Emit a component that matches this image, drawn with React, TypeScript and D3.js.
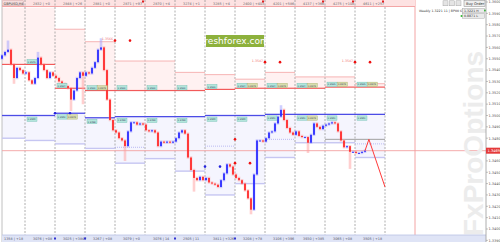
import React from 'react';
import * as d3 from 'd3';

// ---- price series (bar closes, GBPUSD H-bars) ----
const firstOpen = 1.3550;
const closes = [
  1.3553, 1.3556, 1.3558, 1.3545, 1.3533, 1.3542, 1.3540, 1.3537, 1.3538, 1.3531,
  1.3528, 1.3533, 1.3551, 1.3545, 1.3540, 1.3533, 1.3538, 1.3535, 1.3533, 1.3530,
  1.3528, 1.3526, 1.3524, 1.3514, 1.3522, 1.3533, 1.3538, 1.3535, 1.3538, 1.3537,
  1.3542, 1.3547, 1.3558, 1.3560, 1.3540, 1.3514, 1.3496, 1.3487, 1.3485, 1.3480,
  1.3478, 1.3473, 1.3486, 1.3494, 1.3494, 1.3492, 1.3493, 1.3492, 1.3487, 1.3486,
  1.3487, 1.3485, 1.3473, 1.3477, 1.3476, 1.3477, 1.3476, 1.3477, 1.3480, 1.3485,
  1.3487, 1.3484, 1.3463, 1.3452, 1.3445, 1.3443, 1.3446, 1.3443, 1.3445, 1.3441,
  1.3440, 1.3439, 1.3437, 1.3443, 1.3449, 1.3457, 1.3455, 1.3448, 1.3445, 1.3443,
  1.3440, 1.3434, 1.3427, 1.3417, 1.3448, 1.3478, 1.3478, 1.3477, 1.3480, 1.3485,
  1.3486, 1.3493, 1.3499, 1.3505, 1.3496, 1.3489, 1.3485, 1.3483, 1.3486, 1.3482,
  1.3481, 1.3481, 1.3476, 1.3483, 1.3493, 1.3490, 1.3488, 1.3491, 1.3492, 1.3493,
  1.3494, 1.3493, 1.3486, 1.3478, 1.3472, 1.3473, 1.3468, 1.3468, 1.3467, 1.3467,
  1.3468, 1.3469,
];
const spikeHighs: [number, number][] = [[2, 1.3565], [12, 1.3555], [33, 1.3567], [93, 1.3508]];
const spikeLows: [number, number][] = [
  [4, 1.3529], [23, 1.3505], [27, 1.3511], [41, 1.3461], [64, 1.3434],
  [83, 1.3414], [102, 1.3468], [116, 1.3454],
];
const currentPrice = 1.3469;
const projection: [number, number][] = [[121, 1.3469], [122.3, 1.3479], [127.67, 1.3437]];

// ---- daily levels (13 day columns) ----
const dayPinkTop = [1.3595, 1.3595, 1.3576, 1.3565, 1.3548, 1.3548, 1.3538, 1.3536, 1.3532, 1.3538, 1.3534, 1.3534, 1.3528];
const dayRes = [1.3545, 1.3545, 1.3524, 1.3522, 1.3522, 1.3522, 1.3522, 1.3523, 1.3524, 1.3524, 1.3524, 1.3525, 1.3525];
const dayPivot = [1.3500, 1.3500, 1.3502, 1.3498, 1.3499, 1.3499, 1.3499, 1.3500, 1.3500, 1.3501, 1.3501, 1.3501, 1.3501];
const daySup = [1.3480, 1.3478, 1.3475, 1.3471, 1.3458, 1.3462, 1.3451, 1.3430, 1.3440, 1.3463, 1.3476, 1.3476, 1.3463];
const resDouble = [false, false, false, true, false, false, false, false, true, true, true, true, true];
const pivDouble = [false, false, true, false, false, false, false, false, false, false, true, false, false];
const secondLabel = 1.3545;
const dottedLevels: [number, number][] = [[4, 1.3472], [7, 1.3473], [9, 1.3479], [12, 1.3475]];
const grayLevel: [number[], number] = [[11, 12], 1.3479];
const redDots: [number, number][] = [
  [37.67, 1.3566], [42.67, 1.3566], [87.67, 1.3547], [92.67, 1.3547],
  [117.67, 1.3547], [122.67, 1.3547], [77.67, 1.3479], [77.67, 1.3458], [82.67, 1.3458],
];
const blueDots: [number, number][] = [[17.67, 1.3502], [22.67, 1.3502], [67.67, 1.3455], [72.67, 1.3455]];

// ---- text ----
const headerLabels = ['', '2832 | +0', '2848 | +26', '2881 | +0', '2871 | +97', '2870 | +4', '3274 | +1',
  '3285 | +4', '2400 | +403', '4201 | +586', '4137 | +366', '4275 | +108', '4611 | +257'];
const footerLabels = ['1358 | +18', '3076 | +08', '3025 | +3847', '3267 | +08', '3079 | +0', '3076 | 14',
  '2505 | 11', '3811 | +326', '3208 | +78', '3106 | +396', '3930 | +385', '3065 | +08', '3505 | +18'];
const priceTicks = [1.3600, 1.3590, 1.3580, 1.3570, 1.3560, 1.3550, 1.3540, 1.3530, 1.3520, 1.3510, 1.3500,
  1.3490, 1.3480, 1.3470, 1.3460, 1.3450, 1.3440, 1.3430, 1.3420, 1.3410, 1.3400, 1.3390];
const symbolLabel = 'GBPUSD,H4';
const infoLabel = 'Weekly 1.3221 11 | BP00 63';
const infoBoxes = ['1.3221 H', '0.8871 L'];

const FONT = 'DejaVu Sans, Liberation Sans, sans-serif';

export default function App() {
  const xs = d3.scaleLinear().domain([0, 161.333]).range([2, 486]);
  const ys = d3.scaleLinear().domain([1.36, 1.339]).range([2, 240.35]);
  const fmt = d3.format('.4f');
  const dayStart = (d: number) => -2.333 + 10 * d;
  const cx0 = (d: number) => Math.max(2, xs(dayStart(d)));
  const cx1 = (d: number) => xs(dayStart(d + 1));
  const days = d3.range(13);
  const separators = d3.range(1, 14).map(dayStart);
  const nowBar = dayStart(14);

  const candles = closes.map((c, i) => {
    const o = i === 0 ? firstOpen : closes[i - 1];
    let hi = Math.max(o, c), lo = Math.min(o, c);
    const sh = spikeHighs.find(s => s[0] === i);
    const sl = spikeLows.find(s => s[0] === i);
    if (sh) hi = Math.max(hi, sh[1]);
    if (sl) lo = Math.min(lo, sl[1]);
    return { i, o, c, hi, lo, up: c >= o };
  });

  const projLine = d3.line<[number, number]>().x(d => xs(d[0])).y(d => ys(d[1]))(projection) || '';

  const tealBox = (x: number, y: number, label: string, olive: boolean, key: string) => (
    <g key={key}>
      <rect x={x} y={y} width={10} height={4.4} fill="#b4e6dc" stroke="#6cbcb0" strokeWidth={0.4} />
      <text x={x + 0.5} y={y + 3.3} fontSize={2.3} fill="#335">{label}</text>
      {olive && (
        <g>
          <rect x={x + 10.4} y={y} width={10} height={4.4} fill="#d8dcae" stroke="#a7ad6a" strokeWidth={0.4} />
          <text x={x + 10.9} y={y + 3.3} fontSize={2.3} fill="#335">{fmt(secondLabel)}</text>
        </g>
      )}
    </g>
  );

  return (
    <div style={{ position: 'fixed', left: 0, top: 0, width: 500, height: 242, background: '#fff' }}>
      <svg width={500} height={242} style={{ display: 'block' }} fontFamily={FONT}>
        <rect x={0} y={0} width={500} height={242} fill="#fff" />
        {/* pink resistance zones */}
        {days.map(d => (
          <rect key={'pz' + d} x={cx0(d)} width={cx1(d) - cx0(d)} y={ys(dayPinkTop[d])}
            height={ys(dayRes[d]) - ys(dayPinkTop[d])} fill="#fff1f1" />
        ))}
        {/* lavender support zones */}
        {days.map(d => (
          <rect key={'lz' + d} x={cx0(d)} width={cx1(d) - cx0(d)} y={ys(dayPivot[d])}
            height={ys(daySup[d]) - ys(dayPivot[d])} fill="#f5f5fe" />
        ))}
        {/* vertical day separators */}
        {separators.map((b, k) => (
          <line key={'vs' + k} x1={xs(b)} x2={xs(b)} y1={0} y2={242} stroke="#9a9a9a" strokeWidth={0.8} strokeDasharray="2,1.5" />
        ))}
        <line x1={2} x2={2} y1={0} y2={242} stroke="#b0b0b0" strokeWidth={0.8} />
        {/* level lines */}
        {days.map(d => (
          <g key={'lv' + d}>
            {d >= 2 && <line x1={cx0(d)} x2={cx1(d)} y1={ys(dayPinkTop[d])} y2={ys(dayPinkTop[d])} stroke="#f6b4b4" strokeWidth={1} />}
            <line x1={cx0(d)} x2={cx1(d)} y1={ys(dayRes[d])} y2={ys(dayRes[d])} stroke="#f25a5a" strokeWidth={1.2} />
            <line x1={cx0(d)} x2={cx1(d)} y1={ys(dayPivot[d])} y2={ys(dayPivot[d])} stroke="#4c4ce6" strokeWidth={1.3} />
            <line x1={cx0(d)} x2={cx1(d)} y1={ys(daySup[d])} y2={ys(daySup[d])} stroke="#c6c6f2" strokeWidth={1.4} />
          </g>
        ))}
        {dottedLevels.map(([d, p], k) => (
          <line key={'dl' + k} x1={cx0(d)} x2={cx1(d)} y1={ys(p)} y2={ys(p)} stroke="#a9a9ee" strokeWidth={0.8} strokeDasharray="1,1" />
        ))}
        <line x1={cx0(grayLevel[0][0])} x2={cx1(grayLevel[0][1])} y1={ys(grayLevel[1])} y2={ys(grayLevel[1])} stroke="#a0a0a0" strokeWidth={1} />
        {/* current price line */}
        <line x1={2} x2={486} y1={ys(currentPrice)} y2={ys(currentPrice)} stroke="#f3a3a3" strokeWidth={0.9} />
        {/* candles */}
        {candles.map(k => (
          <line key={'w' + k.i} x1={xs(k.i)} x2={xs(k.i)} y1={ys(k.hi) - 1.2} y2={ys(k.lo) + 1.2}
            stroke={k.up ? '#a0a0ff' : '#ffa0a0'} strokeWidth={2.6} opacity={0.5} />
        ))}
        {candles.map(k => (
          <rect key={'b' + k.i} x={xs(k.i) - 0.85} width={1.7} y={ys(Math.max(k.o, k.c))}
            height={Math.max(1, ys(Math.min(k.o, k.c)) - ys(Math.max(k.o, k.c)))}
            fill={k.up ? '#2424ff' : '#ff2222'} />
        ))}
        <path d={projLine} fill="none" stroke="#ff3a3a" strokeWidth={1} />
        {/* dots */}
        {redDots.map(([b, p], k) => (
          <g key={'rd' + k}>
            <circle cx={xs(b)} cy={ys(p)} r={1.3} fill="#ee1111" />
            {k % 2 === 0 && k < 6 && (
              <text x={xs(b) - 2} y={ys(p) - 0.3} fontSize={3.2} fill="#f06a6a" textAnchor="end">{fmt(p)}</text>
            )}
          </g>
        ))}
        {blueDots.map(([b, p], k) => <circle key={'bd' + k} cx={xs(b)} cy={ys(p)} r={1.3} fill="#2222dd" />)}
        {/* level labels */}
        {days.map(d => d >= 1 && tealBox(cx0(d) + 2, ys(dayRes[d]) - 5, fmt(dayRes[d]), resDouble[d], 'rl' + d))}
        {days.map(d => d >= 1 && tealBox(cx0(d) + 2, ys(dayPivot[d]) + 1.5, fmt(dayPivot[d]), pivDouble[d], 'pl' + d))}
        {/* watermarks */}
        <g>
          <rect x={206} y={35} width={58} height={12} fill="#8db13c" />
          <text x={235} y={44.2} fontSize={9} fill="#fff" textAnchor="middle">freshforex.com</text>
        </g>
        <text transform="translate(483,236) rotate(-90)" fontSize={28} fontWeight="bold" fill="#ececec"
          fontFamily="Liberation Sans, DejaVu Sans, sans-serif">FxProOptions</text>
        {/* now line */}
        <line x1={xs(nowBar)} x2={xs(nowBar)} y1={0} y2={242} stroke="#f29a9a" strokeWidth={0.9} />
        {/* header */}
        <rect x={2} y={0} width={xs(nowBar) - 2} height={6.5} fill="#fde2e2" />
        <line x1={2} x2={xs(nowBar)} y1={6.5} y2={6.5} stroke="#f3a6a6" strokeWidth={1} />
        {separators.slice(0, 12).map((b, k) => (
          <line key={'hs' + k} x1={xs(b)} x2={xs(b)} y1={0} y2={6.5} stroke="#9a9a9a" strokeWidth={0.8} strokeDasharray="2,1.5" />
        ))}
        {days.map(d => d >= 1 && (
          <text key={'hl' + d} x={cx0(d) + 8} y={4.8} fontSize={3.4} fill="#666">{headerLabels[d]}</text>
        ))}
        {[4, 8, 10, 11, 12].map(d => (
          <rect key={'hr' + d} x={cx1(d) - 3} y={0.5} width={2} height={2} fill="#e02020" />
        ))}
        <rect x={2.5} y={0.8} width={21} height={5} fill="#f6dede" stroke="#c99" strokeWidth={0.4} />
        <text x={3.5} y={4.6} fontSize={3.4} fill="#333">{symbolLabel}</text>
        {/* toolbar */}
        {[0, 1, 2].map(k => (
          <rect key={'tb' + k} x={443 + k * 6.5} y={0.8} width={5} height={5} fill="#e4e4e4" stroke="#999" strokeWidth={0.4} />
        ))}
        <rect x={464} y={0.5} width={21} height={6} fill="#eee" stroke="#888" strokeWidth={0.5} />
        <text x={466} y={4.8} fontSize={3.6} fill="#333">Buy Order</text>
        <text x={419} y={11.5} fontSize={3.2} fill="#333">{infoLabel}</text>
        {infoBoxes.map((t, k) => (
          <g key={'ib' + k}>
            <rect x={462.5} y={8.3 + k * 5.3} width={22} height={4.6} fill="#eaeaea" stroke="#9a9a9a" strokeWidth={0.4} />
            <text x={464} y={11.8 + k * 5.3} fontSize={3.2} fill="#333">{t}</text>
            <circle cx={k === 0 ? 485 : 461.5} cy={10.6 + k * 5.3} r={1} fill="#2eb82e" />
          </g>
        ))}
        {/* footer */}
        <rect x={2} y={235} width={484} height={7} fill="#dfe4f6" />
        <line x1={2} x2={486} y1={235} y2={235} stroke="#b9c1e4" strokeWidth={0.8} />
        {days.map(d => (
          <text key={'fl' + d} x={d === 0 ? 4 : cx0(d) + 8} y={240} fontSize={3.4} fill="#556">{footerLabels[d]}</text>
        ))}
        {[17.67, 27.67, 57.67, 77.67].map((b, k) => (
          <rect key={'fb' + k} x={xs(b) - 1} y={237.5} width={2} height={2} fill="#3030d0" />
        ))}
        {/* right axis */}
        <rect x={486} y={0} width={14} height={242} fill="#fff" />
        <line x1={486} x2={486} y1={0} y2={242} stroke="#9a9a9a" strokeWidth={0.8} />
        {priceTicks.map(p => (
          <g key={'pt' + p}>
            <line x1={486} x2={488} y1={ys(p)} y2={ys(p)} stroke="#888" strokeWidth={0.5} />
            <text x={488.5} y={ys(p) + 1.3} fontSize={3.5} fill="#555">{fmt(p)}</text>
          </g>
        ))}
        <rect x={486} y={ys(currentPrice) - 3} width={14} height={6} fill="#e43a3a" />
        <text x={487.5} y={ys(currentPrice) + 1.4} fontSize={3.6} fill="#fff">{fmt(currentPrice)}</text>
      </svg>
    </div>
  );
}
